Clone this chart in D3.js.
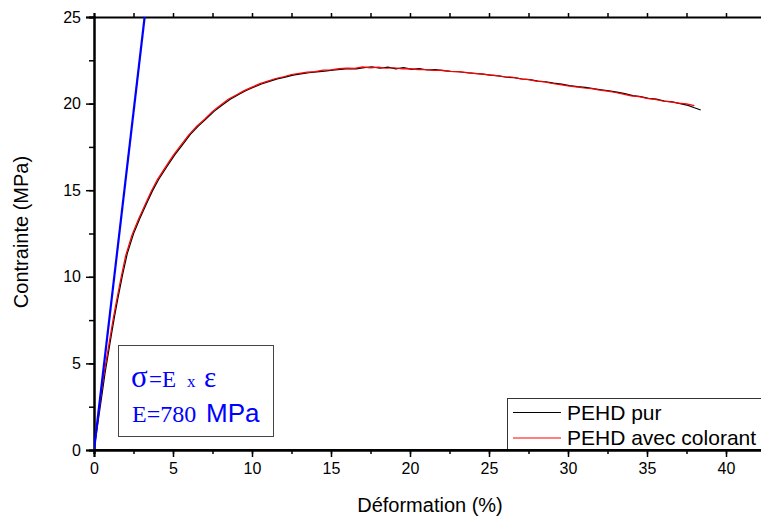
<!DOCTYPE html>
<html><head><meta charset="utf-8">
<script src="https://cdn.jsdelivr.net/npm/d3@7"></script>
<style>body{margin:0;background:#fff}svg{display:block}</style>
</head><body>
<svg id="c" width="761" height="517"></svg>
<script>
// ---- data ----
const xTicks = [0,5,10,15,20,25,30,35,40];
const yTicks = [0,5,10,15,20,25];
const seriesNames = ["PEHD pur","PEHD avec colorant"];
const strainPur = [0,0.52,0.7,0.9,1.1,1.3,1.5,1.8,2.1,2.5,2.9,3.3,3.7,4.1,4.6,5.1,5.6,6.1,6.6,7.1,7.6,8.1,8.6,9.1,9.6,10.1,10.6,11.1,11.6,12.1,12.6,13.1,13.6,14.1,14.6,15.1,15.6,16.1,16.6,17.1,17.6,18.1,18.6,19.1,19.6,20.1,20.6,21.1,21.6,22.1,22.6,23.1,23.6,24.1,24.6,25.1,25.6,26.1,26.6,27.1,27.6,28.1,28.6,29.1,29.6,30.1,30.6,31.1,31.6,32.1,32.6,33.1,33.6,34.1,34.6,35.1,35.6,36.1,36.6,37.1,37.6,38.0,38.4];
const stressPur = [0,3.3,4.45,5.55,6.65,7.72,8.7,10.08,11.32,12.48,13.37,14.17,14.96,15.63,16.34,17.02,17.62,18.22,18.7,19.12,19.55,19.9,20.24,20.5,20.74,20.94,21.13,21.28,21.43,21.53,21.64,21.72,21.78,21.83,21.87,21.93,21.97,22.02,22.0,22.08,22.12,22.04,22.1,22.0,22.08,21.98,22.02,21.94,21.96,21.9,21.86,21.84,21.78,21.74,21.7,21.64,21.6,21.52,21.5,21.42,21.38,21.3,21.26,21.18,21.12,21.04,20.98,20.94,20.86,20.8,20.74,20.66,20.58,20.46,20.4,20.3,20.26,20.14,20.1,20.0,19.9,19.76,19.63];
const strainCol = [0,0.42,0.6,0.8,1.0,1.2,1.4,1.7,2.0,2.4,2.8,3.2,3.6,4.0,4.5,5.0,5.5,6.0,6.5,7.0,7.5,8.0,8.5,9.0,9.5,10,10.5,11,11.5,12,12.5,13,13.5,14,14.5,15,15.5,16,16.5,17,17.5,18,18.5,19,19.5,20,20.5,21,21.5,22,22.5,23,23.5,24,24.5,25,25.5,26,26.5,27,27.5,28,28.5,29,29.5,30,30.5,31,31.5,32,32.5,33,33.5,34,34.5,35,35.5,36,36.5,37,37.5,38];
const stressCol = [0,3.0,4.2,5.3,6.4,7.5,8.5,9.9,11.2,12.4,13.3,14.1,14.9,15.6,16.3,17.0,17.6,18.2,18.7,19.1,19.55,19.9,20.25,20.5,20.75,20.95,21.15,21.3,21.45,21.55,21.68,21.75,21.82,21.85,21.93,21.95,22.02,22.05,22.03,22.12,22.06,22.1,22.04,22.07,22.0,22.02,21.96,21.97,21.92,21.93,21.86,21.85,21.8,21.75,21.72,21.66,21.62,21.55,21.52,21.43,21.38,21.3,21.25,21.16,21.1,21.02,20.97,20.9,20.86,20.78,20.72,20.64,20.55,20.45,20.4,20.3,20.24,20.15,20.1,20.03,19.98,19.88];
const modulusLine = [[0,0],[3.205,25]]; // E = 780 MPa
const annotation = ["\u03C3","=E","x","\u03B5","E=780","MPa"];

// ---- chart ----
const svg = d3.select("#c");
const x = d3.scaleLinear().domain([0,45]).range([94,94+45*15.8]);
const y = d3.scaleLinear().domain([0,25]).range([450,17]);

svg.append("defs").append("clipPath").attr("id","clip")
  .append("rect").attr("x",94).attr("y",16).attr("width",700).attr("height",435);

const minorX = d3.range(0,45.01,2.5);
const minorY = d3.range(0,25.01,2.5);

// bottom axis
const gx = svg.append("g").attr("transform","translate(0,450)")
  .call(d3.axisBottom(x).tickValues(minorX).tickSize(4).tickFormat(""));
gx.append("g").call(d3.axisBottom(x).tickValues(xTicks).tickSize(7).tickPadding(6).tickFormat(d3.format("d")));
// top axis
svg.append("g").attr("transform","translate(0,17)")
  .call(d3.axisTop(x).tickValues(minorX).tickSize(4).tickFormat(""));
// left axis
const gy = svg.append("g").attr("transform","translate(94,0)")
  .call(d3.axisLeft(y).tickValues(minorY).tickSize(5).tickFormat(""));
gy.append("g").call(d3.axisLeft(y).tickValues(yTicks).tickSize(8).tickPadding(5).tickFormat(d3.format("d")));

svg.selectAll(".domain").attr("stroke","#000").attr("stroke-width",2);
svg.selectAll(".tick line").attr("stroke","#000").attr("stroke-width",1.5);
svg.selectAll(".tick text").attr("font-family","Liberation Sans, Arial, sans-serif").attr("font-size",16).attr("fill","#000");

// curves
const line = d3.line().x(d=>x(d[0])).y(d=>y(d[1]));
const plot = svg.append("g").attr("clip-path","url(#clip)");
plot.append("path").datum(strainPur.map((s,i)=>[s,stressPur[i]]))
  .attr("d",line).attr("fill","none").attr("stroke","#000").attr("stroke-width",1.2);
plot.append("path").datum(strainCol.map((s,i)=>[s,stressCol[i]]))
  .attr("d",line).attr("fill","none").attr("stroke","#ff0000").attr("stroke-width",1.2);
plot.append("path").datum(modulusLine)
  .attr("d",line).attr("fill","none").attr("stroke","#0000ff").attr("stroke-width",2.2);

// axis titles
svg.append("text").attr("x",430).attr("y",512).attr("text-anchor","middle")
  .attr("font-family","Liberation Sans, Arial, sans-serif").attr("font-size",20).text("Déformation (%)");
svg.append("text").attr("transform","translate(28,232) rotate(-90)").attr("text-anchor","middle")
  .attr("font-family","Liberation Sans, Arial, sans-serif").attr("font-size",20).text("Contrainte (MPa)");

// annotation box
svg.append("rect").attr("x",118.5).attr("y",345.5).attr("width",155).attr("height",91)
  .attr("fill","#fff").attr("stroke","#444").attr("stroke-width",1);
const serif = "Liberation Serif, Times New Roman, serif";
const ann = svg.append("g").attr("fill","#0000ff");
ann.append("text").attr("x",131).attr("y",387).attr("font-family",serif).attr("font-size",31).text(annotation[0]);
ann.append("text").attr("x",149).attr("y",387).attr("font-family",serif).attr("font-size",23).text(annotation[1]);
ann.append("text").attr("x",187).attr("y",387).attr("font-family",serif).attr("font-size",17).text(annotation[2]);
ann.append("text").attr("x",204).attr("y",387).attr("font-family",serif).attr("font-size",29).text(annotation[3]);
ann.append("text").attr("x",132).attr("y",422).attr("font-family",serif).attr("font-size",24).text(annotation[4]);
ann.append("text").attr("x",206).attr("y",422).attr("font-family","Liberation Sans, Arial, sans-serif").attr("font-size",26).text(annotation[5]);

// legend
svg.append("rect").attr("x",507.5).attr("y",398.5).attr("width",270).attr("height",52)
  .attr("fill","#fff").attr("stroke","#333").attr("stroke-width",1);
const legColors = ["#000","#ff0000"];
seriesNames.forEach((n,i)=>{
  const yy = 412.5 + i*25.5;
  svg.append("line").attr("x1",513).attr("x2",561).attr("y1",yy).attr("y2",yy)
    .attr("stroke",legColors[i]).attr("stroke-width",1);
  svg.append("text").attr("x",567).attr("y",yy+7)
    .attr("font-family","Liberation Sans, Arial, sans-serif").attr("font-size",21).text(n);
});
// redraw bottom axis line over legend bottom
svg.append("line").attr("x1",x(0)).attr("x2",761).attr("y1",450).attr("y2",450).attr("stroke","#000").attr("stroke-width",2);
</script>
</body></html>
